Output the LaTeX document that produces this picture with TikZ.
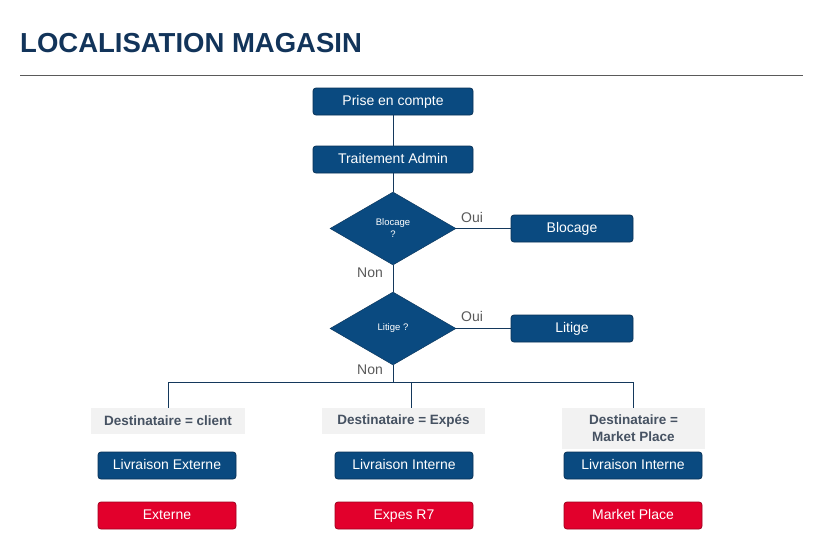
\documentclass[tikz,border=0pt]{standalone}
\usepackage{fontspec}
\setmainfont{Liberation Sans}
\usetikzlibrary{shapes.geometric}
\definecolor{navy}{RGB}{18,52,90}
\definecolor{boxblue}{RGB}{10,74,128}
\definecolor{boxblueline}{RGB}{8,50,88}
\definecolor{boxred}{RGB}{226,0,44}
\definecolor{boxredline}{RGB}{160,0,30}
\definecolor{lbl}{RGB}{70,82,98}
\definecolor{lblfill}{RGB}{242,242,242}
\definecolor{wire}{RGB}{20,56,92}
\definecolor{grtext}{RGB}{90,90,90}
\begin{document}
\begin{tikzpicture}[x=1pt,y=-1pt,
  bluebox/.style={draw=boxblueline,fill=boxblue,text=white,rounded corners=3pt,line width=0.8pt,
    minimum height=27pt,inner sep=0pt,text height=0.72em,text depth=0pt,font=\fontsize{14}{16}\selectfont},
  redbox/.style={draw=boxredline,fill=boxred,text=white,rounded corners=3pt,line width=0.8pt,
    minimum height=27pt,minimum width=138pt,inner sep=0pt,text height=0.72em,text depth=0pt,font=\fontsize{14}{16}\selectfont},
  decision/.style={diamond,draw=boxblueline,fill=boxblue,text=white,aspect=1.73,
    minimum width=126pt,minimum height=73pt,inner sep=0pt,align=center,font=\fontsize{9.5}{12}\selectfont},
  destlabel/.style={fill=lblfill,text=lbl,inner sep=0pt,align=center,
    font=\bfseries\fontsize{13.5}{17}\selectfont},
  answer/.style={text=grtext,inner sep=0pt,font=\fontsize{14}{16}\selectfont},
  wireline/.style={draw=wire,line width=0.8pt}]
\useasboundingbox (0,0) rectangle (823,560);
\fill[white] (0,0) rectangle (823,560);
\node[anchor=base west,text=navy,inner sep=0pt,font=\bfseries\fontsize{27.5}{30}\selectfont] (title) at (20,52) {LOCALISATION MAGASIN};
\draw[draw=grtext,line width=0.8pt] (20,75) coordinate (r1) -- (803,75) coordinate (r2);

\node[bluebox,minimum width=160pt] (prise) at (393,101.5) {Prise en compte};
\node[bluebox,minimum width=160pt] (trait) at (393,159.5) {Traitement Admin};
\node[decision] (dblo) at (393,228.5) {Blocage\\?};
\node[bluebox,minimum width=122pt] (blo) at (572,228.5) {Blocage};
\node[decision] (dlit) at (393,328.5) {Litige ?};
\node[bluebox,minimum width=122pt] (lit) at (572,328.5) {Litige};

\node[answer] (oui1) at (472,217) {Oui};
\node[answer] (non1) at (370,273) {Non};
\node[answer] (oui2) at (472,316) {Oui};
\node[answer] (non2) at (370,370) {Non};

\node[destlabel,minimum width=154pt,minimum height=26pt] (d1) at (168,421) {Destinataire = client};
\node[destlabel,minimum width=163pt,minimum height=26pt] (d2) at (403.5,421) {Destinataire = Expés};
\node[destlabel,minimum width=143pt,minimum height=41pt] (d3) at (633.5,428.5) {Destinataire =\\Market Place};

\node[bluebox,minimum width=138pt] (l1) at (167,465.5) {Livraison Externe};
\node[bluebox,minimum width=138pt] (l2) at (404,465.5) {Livraison Interne};
\node[bluebox,minimum width=138pt] (l3) at (633,465.5) {Livraison Interne};

\node[redbox] (e1) at (167,515.5) {Externe};
\node[redbox] (e2) at (404,515.5) {Expes R7};
\node[redbox] (e3) at (633,515.5) {Market Place};

\coordinate (j) at (393,382);
\coordinate (j1) at (168,382);
\coordinate (j2) at (411,382);
\coordinate (j3) at (633,382);

\draw[wireline] (prise) -- (trait);
\draw[wireline] (trait) -- (dblo);
\draw[wireline] (dblo.east) -- (blo.west);
\draw[wireline] (dblo) -- (dlit);
\draw[wireline] (dlit.east) -- (lit.west);
\draw[wireline] (dlit.south) -- (j);
\draw[wireline] (j1) -- (j3);
\draw[wireline] (j1) -- (j1 |- d1.north);
\draw[wireline] (j2) -- (j2 |- d2.north);
\draw[wireline] (j3) -- (j3 |- d3.north);
\end{tikzpicture}
\end{document}
